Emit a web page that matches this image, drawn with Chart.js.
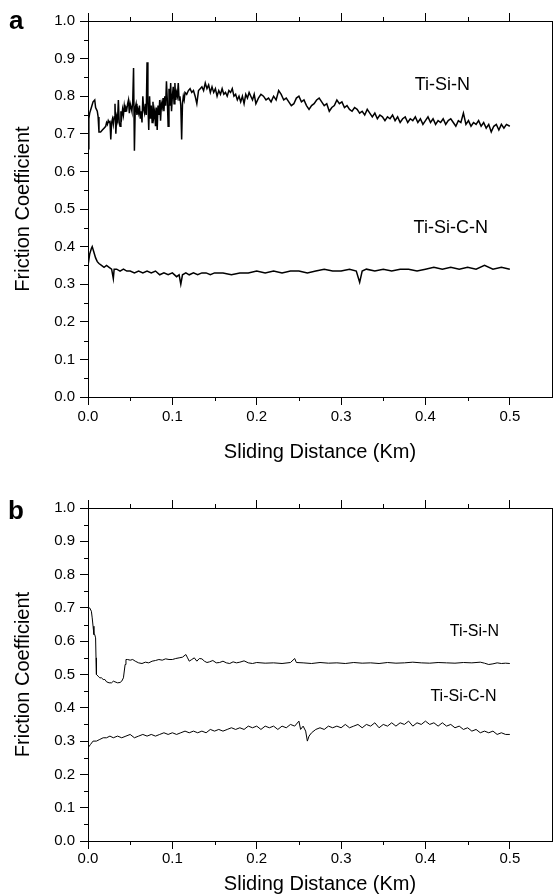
<!DOCTYPE html>
<html>
<head>
<meta charset="utf-8">
<script src="https://cdn.jsdelivr.net/npm/chart.js@4.4.0/dist/chart.umd.min.js"></script>
<style>
html, body { margin: 0; padding: 0; background: #fff; }
body { width: 553px; height: 896px; position: relative; overflow: hidden; font-family: 'Liberation Sans', Arial, sans-serif; }
.box { position: absolute; left: 0; width: 553px; }
#boxA { top: 0; height: 470px; }
#boxB { top: 470px; height: 426px; }
.tag { position: absolute; font-weight: bold; font-size: 26px; line-height: 1; color: #000; }
</style>
</head>
<body>
<div class="box" id="boxA"><canvas id="chartA"></canvas></div>
<div class="box" id="boxB"><canvas id="chartB"></canvas></div>
<div class="tag" style="left:9px; top:7px;">a</div>
<div class="tag" style="left:8px; top:497px;">b</div>
<script>
var FONT = "'Liberation Sans', Arial, sans-serif";

// axis ticks
var xTicks = [0, 0.1, 0.2, 0.3, 0.4, 0.5];
var xMinor = [0.05, 0.15, 0.25, 0.35, 0.45];
var yTicks = [0, 0.1, 0.2, 0.3, 0.4, 0.5, 0.6, 0.7, 0.8, 0.9, 1.0];
var yMinor = [0.05, 0.15, 0.25, 0.35, 0.45, 0.55, 0.65, 0.75, 0.85, 0.95];

// panel a - Ti-Si-N
var aTsnX = [0.000,0.001,0.002,0.004,0.006,0.008,0.009,0.010,0.011,0.012,0.013,0.015,0.017,0.019,0.021,0.022,0.023,0.024,0.025,0.026,
  0.027,0.028,0.029,0.030,0.031,0.032,0.033,0.034,0.035,0.036,0.037,0.038,0.039,0.040,0.041,0.042,0.043,0.044,0.045,0.046,
  0.047,0.048,0.049,0.050,0.051,0.052,0.053,0.054,0.055,0.056,0.057,0.058,0.059,0.060,0.061,0.062,0.063,0.064,0.065,0.066,
  0.067,0.068,0.069,0.070,0.071,0.072,0.073,0.074,0.075,0.076,0.077,0.078,0.079,0.080,0.081,0.082,0.083,0.084,0.085,0.086,
  0.087,0.088,0.089,0.090,0.091,0.092,0.093,0.094,0.095,0.096,0.097,0.098,0.099,0.100,0.101,0.102,0.103,0.104,0.105,0.106,
  0.107,0.108,0.109,0.110,0.111,0.112,0.113,0.114,0.115,0.117,0.119,0.121,0.123,0.125,0.127,0.129,0.131,0.133,0.135,0.137,
  0.139,0.141,0.143,0.145,0.147,0.149,0.151,0.153,0.155,0.157,0.159,0.161,0.163,0.165,0.167,0.169,0.171,0.173,0.175,0.177,
  0.179,0.181,0.183,0.185,0.187,0.189,0.191,0.193,0.195,0.197,0.199,0.202,0.205,0.208,0.211,0.214,0.217,0.220,0.223,0.226,
  0.229,0.232,0.235,0.238,0.241,0.244,0.247,0.250,0.253,0.256,0.259,0.262,0.265,0.268,0.271,0.274,0.277,0.280,0.283,0.286,
  0.289,0.292,0.295,0.298,0.301,0.304,0.307,0.310,0.313,0.316,0.319,0.322,0.325,0.328,0.331,0.334,0.337,0.340,0.343,0.346,
  0.349,0.352,0.355,0.358,0.361,0.364,0.367,0.370,0.373,0.376,0.379,0.382,0.385,0.388,0.391,0.394,0.397,0.400,0.403,0.406,
  0.409,0.412,0.415,0.418,0.421,0.424,0.427,0.430,0.433,0.436,0.439,0.442,0.445,0.448,0.451,0.454,0.457,0.460,0.463,0.466,
  0.469,0.472,0.475,0.478,0.481,0.484,0.487,0.490,0.493,0.496,0.500];
var aTsnY = [0.66,0.74,0.755,0.77,0.785,0.79,0.77,0.765,0.76,0.745,0.705,0.705,0.71,0.715,0.72,0.73,0.725,0.735,0.73,0.735,
  0.685,0.73,0.74,0.725,0.745,0.78,0.70,0.745,0.735,0.79,0.73,0.72,0.76,0.745,0.765,0.75,0.775,0.76,0.77,0.765,
  0.78,0.79,0.755,0.78,0.77,0.76,0.785,0.875,0.655,0.77,0.78,0.75,0.765,0.755,0.775,0.74,0.76,0.73,0.80,0.765,
  0.755,0.78,0.75,0.89,0.78,0.71,0.80,0.74,0.775,0.73,0.785,0.745,0.76,0.72,0.77,0.71,0.775,0.75,0.79,0.735,
  0.78,0.77,0.795,0.76,0.80,0.775,0.84,0.79,0.72,0.82,0.775,0.835,0.76,0.80,0.825,0.78,0.835,0.79,0.81,0.80,
  0.835,0.79,0.80,0.775,0.685,0.78,0.80,0.79,0.81,0.805,0.815,0.82,0.81,0.815,0.80,0.78,0.815,0.82,0.825,0.815,
  0.835,0.82,0.83,0.81,0.825,0.81,0.82,0.80,0.815,0.805,0.82,0.805,0.81,0.80,0.815,0.81,0.82,0.80,0.805,0.79,
  0.80,0.785,0.80,0.78,0.805,0.795,0.81,0.80,0.79,0.805,0.78,0.795,0.805,0.80,0.79,0.795,0.785,0.80,0.79,0.815,
  0.805,0.79,0.795,0.785,0.775,0.78,0.795,0.80,0.785,0.79,0.775,0.765,0.775,0.78,0.79,0.795,0.785,0.775,0.78,0.76,
  0.77,0.775,0.79,0.78,0.785,0.77,0.775,0.765,0.76,0.77,0.765,0.755,0.76,0.75,0.765,0.755,0.745,0.755,0.74,0.75,
  0.745,0.735,0.745,0.74,0.75,0.735,0.745,0.73,0.74,0.745,0.73,0.74,0.735,0.745,0.73,0.74,0.725,0.735,0.745,0.73,
  0.74,0.725,0.735,0.73,0.74,0.725,0.735,0.74,0.73,0.72,0.735,0.73,0.755,0.725,0.735,0.72,0.73,0.725,0.735,0.72,
  0.73,0.715,0.725,0.705,0.72,0.725,0.71,0.725,0.715,0.725,0.72];

// panel a - Ti-Si-C-N
var aTscnX = [0.000,0.002,0.004,0.005,0.007,0.009,0.011,0.013,0.016,0.019,0.022,0.025,0.028,0.030,0.031,0.034,0.038,0.042,0.046,0.050,
  0.055,0.060,0.065,0.070,0.075,0.080,0.085,0.090,0.095,0.100,0.105,0.108,0.110,0.112,0.116,0.120,0.125,0.130,0.135,0.140,
  0.145,0.150,0.160,0.170,0.180,0.190,0.200,0.210,0.220,0.230,0.240,0.250,0.260,0.270,0.280,0.290,0.300,0.310,0.318,0.322,
  0.325,0.330,0.340,0.350,0.360,0.370,0.380,0.390,0.400,0.410,0.420,0.430,0.440,0.450,0.460,0.470,0.480,0.490,0.500];
var aTscnY = [0.35,0.38,0.395,0.40,0.385,0.37,0.36,0.355,0.35,0.345,0.35,0.345,0.34,0.315,0.34,0.34,0.335,0.34,0.335,0.335,
  0.33,0.335,0.33,0.335,0.33,0.335,0.325,0.33,0.325,0.33,0.32,0.325,0.30,0.325,0.33,0.325,0.33,0.325,0.33,0.33,
  0.325,0.33,0.33,0.325,0.33,0.33,0.335,0.33,0.335,0.33,0.335,0.335,0.33,0.335,0.34,0.335,0.335,0.34,0.335,0.305,
  0.335,0.34,0.335,0.34,0.335,0.34,0.34,0.335,0.34,0.345,0.34,0.345,0.34,0.345,0.34,0.35,0.34,0.345,0.34];

// panel b - Ti-Si-N
var bTsnX = [0.000,0.002,0.004,0.005,0.006,0.007,0.008,0.009,0.0095,0.010,0.012,0.014,0.016,0.018,0.020,0.022,0.025,0.028,0.030,0.032,
  0.035,0.038,0.040,0.042,0.044,0.045,0.047,0.050,0.053,0.056,0.060,0.064,0.068,0.072,0.076,0.080,0.084,0.088,0.092,0.096,
  0.100,0.104,0.108,0.112,0.116,0.118,0.120,0.123,0.126,0.129,0.132,0.135,0.138,0.141,0.144,0.148,0.152,0.156,0.160,0.164,
  0.168,0.172,0.176,0.180,0.185,0.190,0.195,0.200,0.210,0.220,0.230,0.240,0.245,0.247,0.255,0.265,0.275,0.285,0.295,0.305,
  0.315,0.325,0.335,0.345,0.355,0.365,0.375,0.385,0.395,0.405,0.415,0.425,0.435,0.445,0.455,0.465,0.470,0.475,0.480,0.485,
  0.490,0.495,0.500];
var bTsnY = [0.70,0.70,0.69,0.67,0.645,0.62,0.62,0.61,0.55,0.50,0.495,0.49,0.49,0.485,0.485,0.478,0.475,0.475,0.48,0.478,
  0.475,0.476,0.48,0.49,0.53,0.545,0.545,0.543,0.545,0.54,0.535,0.533,0.537,0.535,0.54,0.542,0.545,0.543,0.547,0.545,
  0.545,0.548,0.55,0.552,0.56,0.55,0.54,0.545,0.55,0.54,0.548,0.547,0.54,0.536,0.538,0.542,0.535,0.536,0.54,0.535,
  0.533,0.538,0.535,0.537,0.541,0.535,0.533,0.536,0.534,0.535,0.533,0.536,0.548,0.536,0.535,0.533,0.536,0.534,0.535,0.533,
  0.536,0.534,0.535,0.533,0.536,0.534,0.535,0.537,0.535,0.534,0.536,0.535,0.534,0.536,0.535,0.537,0.534,0.53,0.532,0.535,
  0.533,0.534,0.533];

// panel b - Ti-Si-C-N
var bTscnX = [0.000,0.003,0.006,0.010,0.014,0.018,0.022,0.026,0.030,0.035,0.040,0.045,0.050,0.055,0.060,0.065,0.070,0.075,0.080,0.085,
  0.090,0.095,0.100,0.105,0.110,0.115,0.120,0.125,0.130,0.135,0.140,0.145,0.150,0.155,0.160,0.165,0.170,0.175,0.180,0.185,
  0.190,0.195,0.200,0.205,0.210,0.215,0.220,0.225,0.230,0.235,0.240,0.245,0.250,0.252,0.255,0.258,0.260,0.262,0.265,0.270,
  0.275,0.280,0.285,0.290,0.295,0.300,0.305,0.310,0.315,0.320,0.325,0.330,0.335,0.340,0.345,0.350,0.355,0.360,0.365,0.370,
  0.375,0.380,0.385,0.390,0.395,0.400,0.405,0.410,0.415,0.420,0.425,0.430,0.435,0.440,0.445,0.450,0.455,0.460,0.465,0.470,
  0.475,0.480,0.485,0.490,0.495,0.500];
var bTscnY = [0.28,0.29,0.30,0.30,0.305,0.31,0.31,0.315,0.31,0.315,0.31,0.315,0.32,0.31,0.315,0.32,0.315,0.32,0.315,0.32,
  0.325,0.32,0.325,0.32,0.325,0.33,0.325,0.33,0.325,0.33,0.325,0.335,0.33,0.335,0.33,0.335,0.34,0.335,0.34,0.335,
  0.345,0.34,0.345,0.335,0.345,0.34,0.345,0.335,0.345,0.34,0.35,0.345,0.36,0.335,0.345,0.33,0.30,0.315,0.325,0.335,
  0.34,0.335,0.345,0.34,0.345,0.34,0.35,0.34,0.345,0.35,0.34,0.35,0.345,0.355,0.34,0.35,0.345,0.355,0.345,0.355,
  0.35,0.36,0.345,0.355,0.35,0.36,0.35,0.355,0.345,0.355,0.345,0.35,0.34,0.345,0.335,0.34,0.33,0.335,0.325,0.33,
  0.325,0.33,0.32,0.325,0.32,0.32];

function toPoints(xs, ys) {
  return xs.map(function (x, i) { return { x: x, y: ys[i] }; });
}

// minor ticks on all four sides + the series names
var extras = {
  id: 'extras',
  afterDraw: function (chart, args, opts) {
    var ctx = chart.ctx, a = chart.chartArea;
    var sx = chart.scales.x, sy = chart.scales.y;
    ctx.save();
    ctx.strokeStyle = '#000';
    ctx.lineWidth = 1;
    ctx.beginPath();
    xMinor.forEach(function (v) {
      var px = Math.round(sx.getPixelForValue(v)) + 0.5;
      ctx.moveTo(px, a.bottom); ctx.lineTo(px, a.bottom + 4);
      ctx.moveTo(px, a.top); ctx.lineTo(px, a.top - 4);
    });
    yMinor.forEach(function (v) {
      var py = Math.round(sy.getPixelForValue(v)) + 0.5;
      ctx.moveTo(a.left, py); ctx.lineTo(a.left - 4, py);
      ctx.moveTo(a.right, py); ctx.lineTo(a.right + 4, py);
    });
    ctx.stroke();
    ctx.fillStyle = '#000';
    ctx.font = opts.size + 'px ' + FONT;
    ctx.textAlign = 'center';
    ctx.textBaseline = 'middle';
    opts.labels.forEach(function (l) {
      ctx.fillText(l.text, sx.getPixelForValue(l.x), sy.getPixelForValue(l.y));
    });
    ctx.restore();
  }
};

function makeScales(o) {
  var setX = function (s) { s.ticks = xTicks.map(function (v) { return { value: v }; }); };
  var setY = function (s) { s.ticks = yTicks.map(function (v) { return { value: v }; }); };
  return {
    x: {
      type: 'linear', position: 'bottom', min: 0, max: 0.55,
      afterBuildTicks: setX,
      afterFit: function (s) { s.height = o.xH; },
      grid: { drawOnChartArea: false, tickLength: 8, color: '#000' },
      border: { color: '#000', width: 1 },
      ticks: { color: '#000', padding: o.xPad, maxRotation: 0, font: { size: o.tick, family: FONT },
        callback: function (v) { return v.toFixed(1); } },
      title: { display: true, text: 'Sliding Distance (Km)', color: '#000',
        font: { size: o.title, family: FONT }, padding: { top: 0, bottom: o.titlePad } }
    },
    x2: {
      type: 'linear', position: 'top', min: 0, max: 0.55,
      afterBuildTicks: setX,
      afterFit: function (s) { s.height = o.topH; },
      grid: { drawOnChartArea: false, tickLength: 8, color: '#000' },
      border: { color: '#000', width: 1 },
      ticks: { display: false }
    },
    y: {
      type: 'linear', position: 'left', min: 0, max: 1.0,
      afterBuildTicks: setY,
      afterFit: function (s) { s.width = 88; },
      grid: { drawOnChartArea: false, tickLength: 8, color: '#000' },
      border: { color: '#000', width: 1 },
      ticks: { color: '#000', padding: 5, font: { size: o.tick, family: FONT },
        callback: function (v) { return v.toFixed(1); } },
      title: { display: true, text: 'Friction Coefficient', color: '#000',
        font: { size: o.title, family: FONT }, padding: { top: 11, bottom: 0 } }
    },
    y2: {
      type: 'linear', position: 'right', min: 0, max: 1.0,
      afterBuildTicks: setY,
      afterFit: function (s) { s.width = 1; },
      grid: { drawOnChartArea: false, tickLength: 8, color: '#000' },
      border: { color: '#000', width: 1 },
      ticks: { display: false }
    }
  };
}

function buildChart(id, series, width, scaleOpts, labelOpts) {
  var ctx = document.getElementById(id).getContext('2d');
  return new Chart(ctx, {
    type: 'scatter',
    data: {
      datasets: series.map(function (s) {
        return {
          data: s, showLine: true, borderColor: '#000', borderWidth: width,
          pointRadius: 0, tension: 0, fill: false
        };
      })
    },
    options: {
      responsive: true,
      maintainAspectRatio: false,
      animation: false,
      layout: { padding: 0 },
      plugins: { legend: { display: false }, tooltip: { enabled: false }, extras: labelOpts },
      scales: makeScales(scaleOpts)
    },
    plugins: [extras]
  });
}

buildChart('chartA', [toPoints(aTsnX, aTsnY), toPoints(aTscnX, aTscnY)], 1.5,
  { xH: 73, topH: 21, xPad: 3, tick: 15, title: 20, titlePad: 6 },
  { size: 18, labels: [
    { text: 'Ti-Si-N', x: 0.42, y: 0.83 },
    { text: 'Ti-Si-C-N', x: 0.43, y: 0.45 }
  ] });

buildChart('chartB', [toPoints(bTsnX, bTsnY), toPoints(bTscnX, bTscnY)], 1,
  { xH: 55, topH: 38, xPad: 1, tick: 15, title: 20, titlePad: 0 },
  { size: 16, labels: [
    { text: 'Ti-Si-N', x: 0.458, y: 0.63 },
    { text: 'Ti-Si-C-N', x: 0.445, y: 0.435 }
  ] });
</script>
</body>
</html>
